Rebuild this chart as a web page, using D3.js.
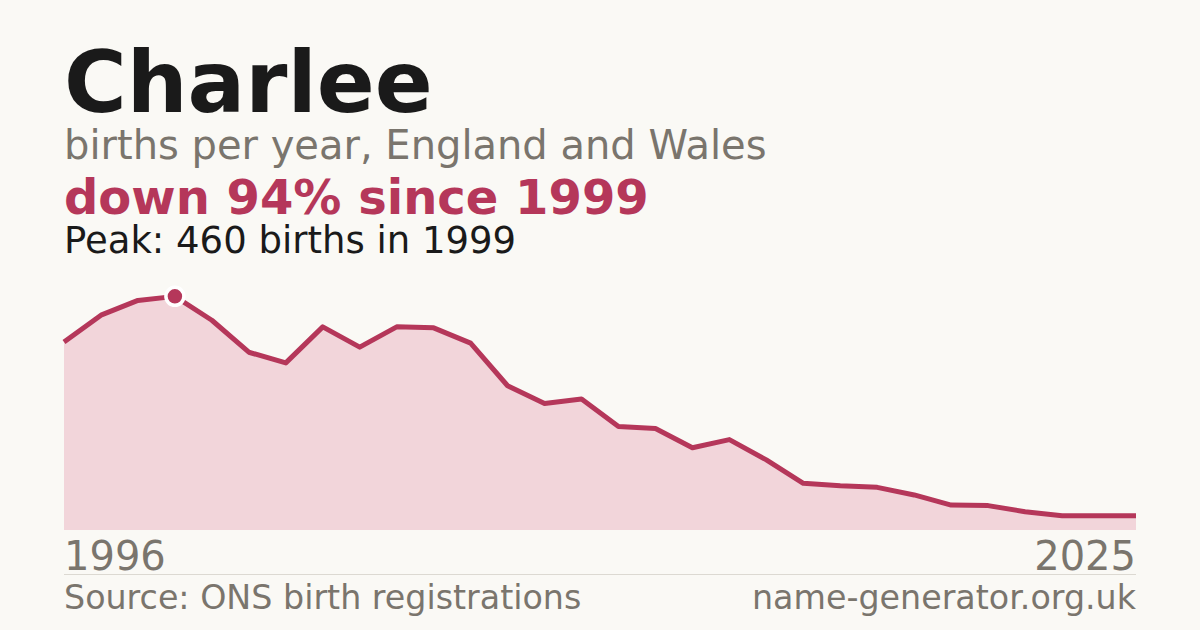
<!DOCTYPE html>
<html>
<head>
<meta charset="utf-8">
<script src="https://cdn.jsdelivr.net/npm/d3@7"></script>
<style>
  body { margin: 0; background: #faf9f5; }
  svg { display: block; font-family: "DejaVu Sans", sans-serif; }
</style>
</head>
<body>
<svg id="chart" width="1200" height="630"></svg>
<script>
// data
const years = d3.range(1996, 2026);
const births = [370, 423, 452, 460, 413, 350, 329, 400, 360, 400,
                398, 368, 284, 249, 258, 204, 200, 162, 178, 138,
                92, 87, 84, 69, 49, 48, 36, 28, 28, 28];
const tickYears = [1996, 2025];

const data = years.map((y, i) => ({ year: y, value: births[i] }));

const W = 1200, H = 630;
const margin = { left: 64, right: 64, top: 273, bottom: 100 };
const red = '#b5375a';
const grey = '#7a756d';

const svg = d3.select('#chart');
svg.append('rect').attr('width', W).attr('height', H).attr('fill', '#faf9f5');

// header text
svg.append('text').attr('x', 64).attr('y', 112)
  .attr('font-size', 85.5).attr('font-weight', 'bold').attr('fill', '#1a1a1a')
  .text('Charlee');
svg.append('text').attr('x', 64).attr('y', 159)
  .attr('font-size', 40).attr('fill', grey)
  .text('births per year, England and Wales');
svg.append('text').attr('x', 64).attr('y', 214)
  .attr('font-size', 48).attr('font-weight', 'bold').attr('fill', red)
  .text('down 94% since 1999');
svg.append('text').attr('x', 64).attr('y', 253)
  .attr('font-size', 37).attr('fill', '#1a1a1a')
  .text('Peak: 460 births in 1999');

// scales
const x = d3.scaleLinear()
  .domain(d3.extent(years))
  .range([margin.left, W - margin.right]);

const y = d3.scaleLinear()
  .domain([0, d3.max(births) * 1.1])
  .range([530, margin.top]);

// area
const area = d3.area()
  .x(d => x(d.year))
  .y0(y(0))
  .y1(d => y(d.value));

svg.append('path')
  .datum(data)
  .attr('d', area)
  .attr('fill', '#f2d5da');

// line
const line = d3.line()
  .x(d => x(d.year))
  .y(d => y(d.value));

svg.append('path')
  .datum(data)
  .attr('d', line)
  .attr('fill', 'none')
  .attr('stroke', red)
  .attr('stroke-width', 5)
  .attr('stroke-linejoin', 'round');

// peak marker
const peak = data.reduce((a, b) => (b.value > a.value ? b : a));
svg.append('circle')
  .attr('cx', x(peak.year))
  .attr('cy', y(peak.value))
  .attr('r', 9)
  .attr('fill', red)
  .attr('stroke', '#fff')
  .attr('stroke-width', 3.5);

// x labels (first and last year only)
svg.selectAll('.xlabel')
  .data(tickYears)
  .enter().append('text')
  .attr('class', 'xlabel')
  .attr('x', d => x(d))
  .attr('y', 570)
  .attr('font-size', 40)
  .attr('fill', grey)
  .attr('text-anchor', (d, i) => (i === 0 ? 'start' : 'end'))
  .text(d => d);

// separator
svg.append('line')
  .attr('x1', 64).attr('x2', W - 64)
  .attr('y1', 574.5).attr('y2', 574.5)
  .attr('stroke', '#dcd9d2').attr('stroke-width', 1);

// footer
svg.append('text').attr('x', 64).attr('y', 609)
  .attr('font-size', 33.3).attr('fill', grey)
  .text('Source: ONS birth registrations');
svg.append('text').attr('x', W - 64).attr('y', 609)
  .attr('font-size', 33.3).attr('fill', grey).attr('text-anchor', 'end')
  .text('name-generator.org.uk');
</script>
</body>
</html>
